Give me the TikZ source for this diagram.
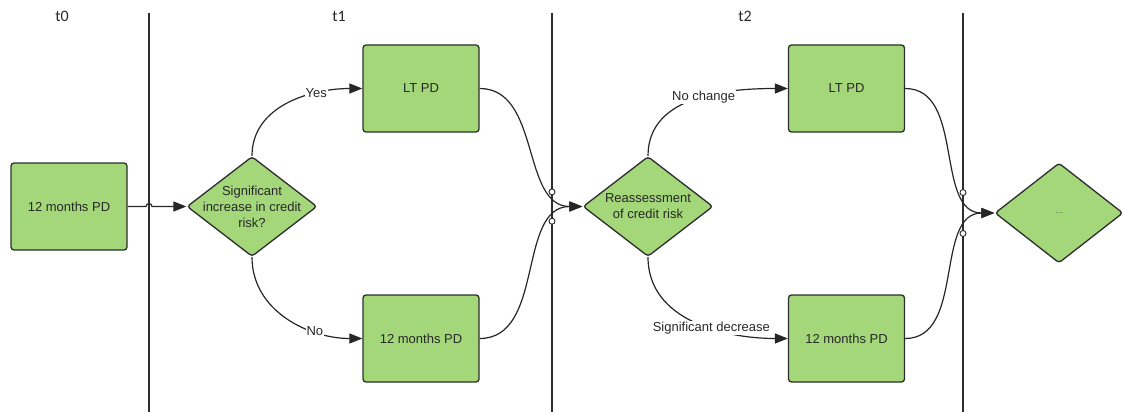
\documentclass[tikz,border=0pt]{standalone}
\usepackage{fontspec}
\setmainfont{Liberation Sans}
\newfontfamily\titlefont{Carlito}
\usetikzlibrary{shapes.geometric,arrows.meta,intersections,calc}
\definecolor{boxgreen}{RGB}{163,215,122}
\definecolor{edgegray}{RGB}{45,45,45}
\definecolor{txtgray}{RGB}{40,40,40}
\tikzset{
  pdbox/.style={draw=edgegray, line width=1.3pt, fill=boxgreen, rounded corners=3pt,
    minimum width=116pt, minimum height=87pt, inner sep=0pt,
    font=\fontsize{13}{15}\selectfont, text=txtgray},
  decision/.style={diamond, draw=edgegray, line width=1.3pt, fill=boxgreen, rounded corners=3pt,
    minimum width=130pt, minimum height=100pt, inner sep=0pt},
  dtext/.style={align=center, font=\fontsize{13}{16}\selectfont, text=txtgray, inner sep=0pt},
  lane/.style={draw=edgegray, line width=1.3pt},
  flow/.style={draw=black!85, line width=1.2pt, -{Triangle[length=13pt,width=10pt]}},
  elabel/.style={fill=white, inner sep=1pt, font=\fontsize{13}{15}\selectfont, text=txtgray},
  ttl/.style={font=\titlefont\fontsize{16}{18}\selectfont, text=txtgray},
  hop/.style={draw=black!85, line width=0.9pt, fill=white}
}
\begin{document}
\begin{tikzpicture}[x=1pt,y=-1pt]
\useasboundingbox (0,0) rectangle (1124,412);
% lanes
\coordinate (v1t) at (149,13); \coordinate (v1b) at (149,412);
\coordinate (v2t) at (552,13); \coordinate (v2b) at (552,412);
\coordinate (v3t) at (963,13); \coordinate (v3b) at (963,412);
\draw[lane, name path=L1] (v1t) -- (v1b);
\draw[lane, name path=L2] (v2t) -- (v2b);
\draw[lane, name path=L3] (v3t) -- (v3b);
% titles
\node[ttl] (t0) at (62,16) {t0};
\node[ttl] (t1) at (339,16) {t1};
\node[ttl] (t2) at (745,16) {t2};
% nodes
\node[pdbox] (b0) at (69,206.5) {12 months PD};
\node[decision] (d1) at (252,206.5) {};
\node[dtext] (d1t) at (d1.center) {Significant\\increase in credit\\risk?};
\node[pdbox] (lt1) at (421,88.5) {LT PD};
\node[pdbox] (m1) at (421,338.5) {12 months PD};
\node[decision] (d2) at (648,206.5) {};
\node[dtext] (d2t) at (d2.center) {Reassessment\\of credit risk};
\node[pdbox] (lt2) at (846.5,88.5) {LT PD};
\node[pdbox] (m2) at (846.5,338.5) {12 months PD};
\node[decision, minimum width=128pt] (d3) at (1059,213) {};
\node[dtext, font=\fontsize{9}{11}\selectfont, text=black!60] (d3t) at (d3.center) {...};
% connectors
\draw[flow] (b0.east) -- ([xshift=-3pt]b0.east -| v1t) arc[start angle=180, end angle=0, radius=3pt] -- (d1.west);
\draw[flow] (d1.north) to[out=90,in=180] node[elabel, pos=0.7] {Yes} (lt1.west);
\draw[flow] (d1.south) to[out=-90,in=180] node[elabel, pos=0.7] {No} (m1.west);
\draw[flow, name path=c1] (lt1.east) to[out=0,in=180] (d2.west);
\draw[flow, name path=c2] (m1.east) to[out=0,in=180] (d2.west);
\draw[flow] (d2.north) to[out=90,in=180] node[elabel, pos=0.55] {No change} (lt2.west);
\draw[flow] (d2.south) to[out=-90,in=180] node[elabel, pos=0.6] {Significant decrease} (m2.west);
\draw[flow, name path=c3] (lt2.east) to[out=0,in=180] (d3.west);
\draw[flow, name path=c4] (m2.east) to[out=0,in=180] (d3.west);
% hops
\path[name intersections={of=L2 and c1, by=h1}];
\path[name intersections={of=L2 and c2, by=h2}];
\path[name intersections={of=L3 and c3, by=h3}];
\path[name intersections={of=L3 and c4, by=h4}];
\foreach \h in {h1,h2,h3,h4} \draw[hop] (\h) circle (3pt);
\end{tikzpicture}
\end{document}
